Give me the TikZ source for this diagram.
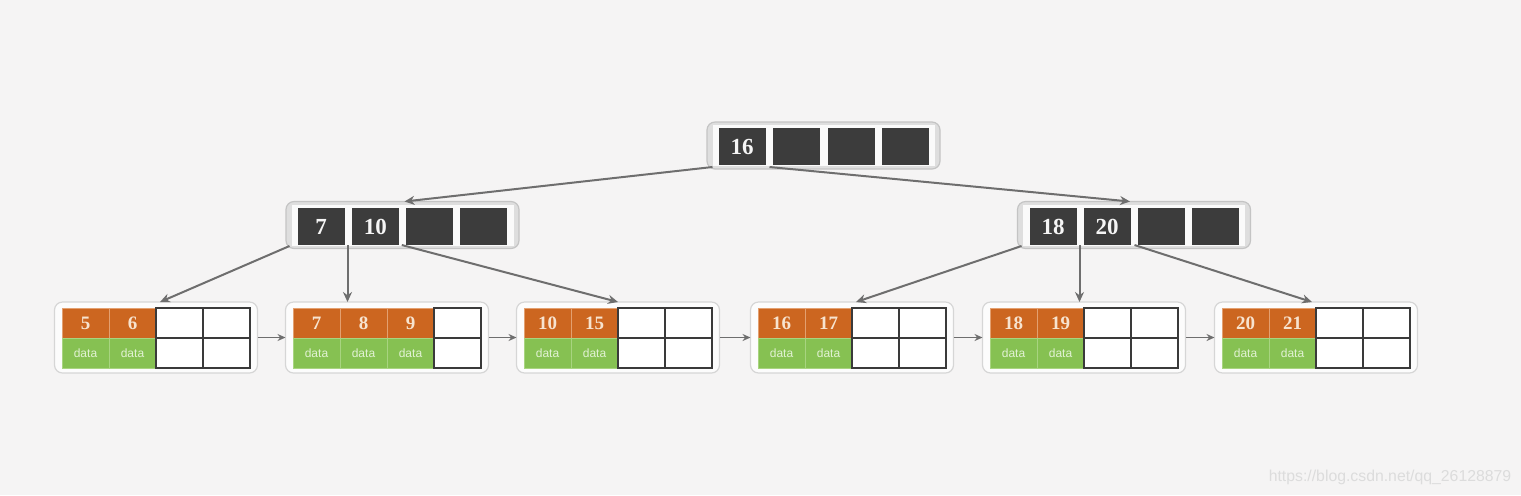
\documentclass[tikz,border=0pt]{standalone}
\usepackage{fontspec}
\newfontfamily\numf{Liberation Serif}
\newfontfamily\sansf{Liberation Sans}
\usetikzlibrary{arrows.meta}
\definecolor{bg}{HTML}{F5F4F4}
\definecolor{darkcell}{HTML}{3C3C3C}
\definecolor{innerfill}{HTML}{DEDEDE}
\definecolor{innerline}{HTML}{C4C4C4}
\definecolor{orangec}{HTML}{CC6620}
\definecolor{orangesep}{HTML}{E3A070}
\definecolor{orangetxt}{HTML}{F7E3CF}
\definecolor{greenc}{HTML}{86C152}
\definecolor{greensep}{HTML}{A8D480}
\definecolor{greentxt}{HTML}{E2F2D4}
\definecolor{gridc}{HTML}{3A3A3A}
\definecolor{arrowc}{HTML}{6E6E6E}
\definecolor{leafline}{HTML}{D6D6D6}
\definecolor{wmc}{HTML}{DCDCDC}
\tikzset{
  innerouter/.style={draw=innerline, fill=innerfill, rounded corners=4pt, line width=0.6pt,
    minimum width=116.5pt, minimum height=23.5pt, inner sep=0pt, outer sep=0pt},
  innerwhite/.style={fill=white!96!gray, minimum width=111pt, minimum height=20.5pt, inner sep=0pt, outer sep=0pt},
  keycell/.style={fill=darkcell, minimum width=23.5pt, minimum height=18.5pt, inner sep=0pt, outer sep=0pt,
    text=white!92!gray, font=\numf\bfseries\fontsize{11.5}{11.5}\selectfont},
  leafouter/.style={draw=leafline, fill=white!70!bg, rounded corners=4pt, line width=0.6pt,
    minimum width=101.5pt, minimum height=35.5pt, inner sep=0pt, outer sep=0pt},
  okeycell/.style={fill=orangec, draw=orangesep, line width=0.4pt, minimum width=23.5pt, minimum height=15pt,
    inner sep=0pt, outer sep=0pt, text=orangetxt, font=\numf\bfseries\fontsize{9.5}{9.5}\selectfont},
  datacell/.style={fill=greenc, draw=greensep, line width=0.4pt, minimum width=23.5pt, minimum height=15pt,
    inner sep=0pt, outer sep=0pt, text=greentxt, font=\sansf\fontsize{6}{6}\selectfont},
  emptycell/.style={fill=white, draw=gridc, line width=0.8pt, minimum width=23.5pt, minimum height=15pt,
    inner sep=0pt, outer sep=0pt},
  treearrow/.style={draw=arrowc, line width=1pt, -{Stealth[length=5pt,width=4.5pt]}},
  leafarrow/.style={draw=arrowc, line width=0.8pt, -{Stealth[length=4pt,width=3.5pt]}},
}
\newcommand\leafbox[2]{\node[leafouter] (#1) at ({#2+94},337.5) {};}
\newcommand\okey[4]{%
  \node[okeycell] (#1k#3) at ({#2+23.5+47*(#3-1)},323) {#4};
  \node[datacell] (#1d#3) at ({#2+23.5+47*(#3-1)},353) {data};}
\newcommand\ecell[3]{%
  \node[emptycell] (#1e#3) at ({#2+23.5+47*(#3-1)},323) {};
  \node[emptycell] (#1f#3) at ({#2+23.5+47*(#3-1)},353) {};}
\begin{document}
\begin{tikzpicture}[x=0.5pt,y=-0.5pt]
\path[fill=bg] (0,0) rectangle (1521,495);
\useasboundingbox (0,0) rectangle (1521,495);

% root
\node[innerouter] (root) at (823.5,145.5) {};
\node[innerwhite] at (823.5,145.5) {};
\node[keycell] (rc1) at (742,146.5) {16};
\node[keycell] (rc2) at (796.5,146.5) {};
\node[keycell] (rc3) at (851,146.5) {};
\node[keycell] (rc4) at (905.5,146.5) {};

% left level 2
\node[innerouter] (ln) at (402.5,225) {};
\node[innerwhite] at (402.5,225) {};
\node[keycell] (lc1) at (321,226.5) {7};
\node[keycell] (lc2) at (375.3,226.5) {10};
\node[keycell] (lc3) at (429.6,226.5) {};
\node[keycell] (lc4) at (483.9,226.5) {};

% right level 2
\node[innerouter] (rn) at (1134,225) {};
\node[innerwhite] at (1134,225) {};
\node[keycell] (qc1) at (1053,226.5) {18};
\node[keycell] (qc2) at (1107,226.5) {20};
\node[keycell] (qc3) at (1161,226.5) {};
\node[keycell] (qc4) at (1215,226.5) {};

% leaves
\leafbox{la}{62}
\okey{la}{62}{1}{5}\okey{la}{62}{2}{6}\ecell{la}{62}{3}\ecell{la}{62}{4}
\leafbox{lb}{293}
\okey{lb}{293}{1}{7}\okey{lb}{293}{2}{8}\okey{lb}{293}{3}{9}\ecell{lb}{293}{4}
\leafbox{lcc}{524}
\okey{lcc}{524}{1}{10}\okey{lcc}{524}{2}{15}\ecell{lcc}{524}{3}\ecell{lcc}{524}{4}
\leafbox{ld}{758}
\okey{ld}{758}{1}{16}\okey{ld}{758}{2}{17}\ecell{ld}{758}{3}\ecell{ld}{758}{4}
\leafbox{le}{990}
\okey{le}{990}{1}{18}\okey{le}{990}{2}{19}\ecell{le}{990}{3}\ecell{le}{990}{4}
\leafbox{lf}{1222}
\okey{lf}{1222}{1}{20}\okey{lf}{1222}{2}{21}\ecell{lf}{1222}{3}\ecell{lf}{1222}{4}

% tree connectors
\draw[treearrow] ([xshift=-3pt,yshift=-1pt]rc1.south west) -- ([xshift=1pt]ln.north);
\draw[treearrow] ([xshift=2pt,yshift=-1pt]rc1.south east) -- ([xshift=-2pt]rn.north);
\draw[treearrow] ([xshift=-4pt,yshift=-0.5pt]lc1.south west) -- ([xshift=2pt]la.north);
\draw[treearrow] ([xshift=1.5pt]lc1.south east) -- ([xshift=1.5pt]lc1.south east |- lb.north);
\draw[treearrow] ([xshift=1.5pt]lc2.south east) -- (lcc.north);
\draw[treearrow] ([xshift=-4pt,yshift=-0.5pt]qc1.south west) -- ([xshift=2pt]ld.north);
\draw[treearrow] ([xshift=1.5pt]qc1.south east) -- ([xshift=1.5pt]qc1.south east |- le.north);
\draw[treearrow] ([xshift=2pt]qc2.south east) -- ([xshift=-2pt]lf.north);

% leaf links
\draw[leafarrow] (la.east) -- (lb.west);
\draw[leafarrow] (lb.east) -- (lcc.west);
\draw[leafarrow] (lcc.east) -- (ld.west);
\draw[leafarrow] (ld.east) -- (le.west);
\draw[leafarrow] (le.east) -- (lf.west);

% watermark
\node[text=wmc, font=\sansf\fontsize{7.9}{7.9}\selectfont, inner sep=0pt] (wm) at (1390,477) {https://blog.csdn.net/qq\_26128879};
\end{tikzpicture}
\end{document}
